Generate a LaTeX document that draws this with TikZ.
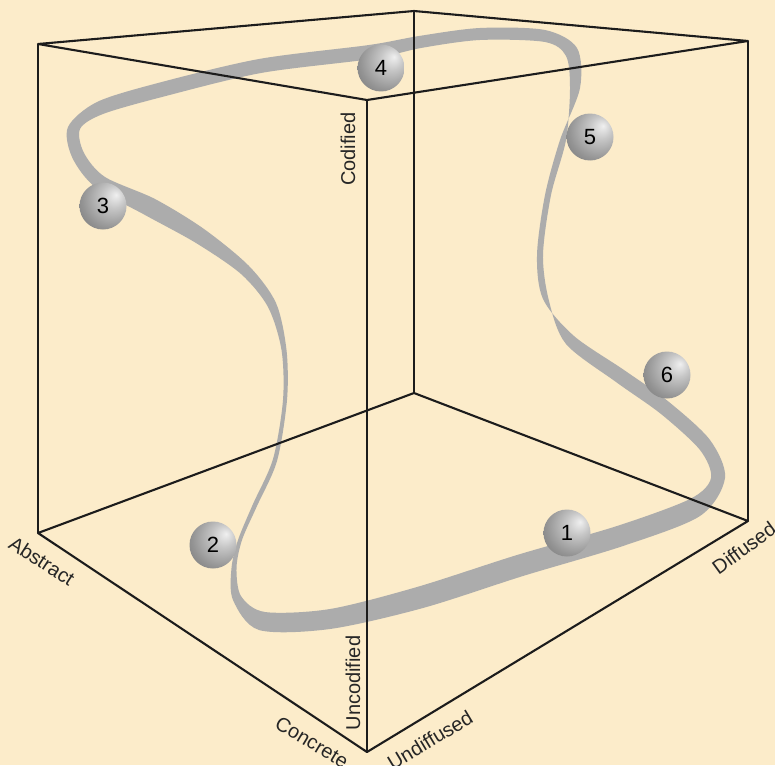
\documentclass[tikz,border=0pt]{standalone}
\usepackage{fontspec}
\setmainfont{Liberation Sans}
\definecolor{parch}{RGB}{252,236,202}
\definecolor{ink}{RGB}{28,28,28}
\definecolor{band}{RGB}{172,172,172}
\pgfdeclareradialshading{sphere}{\pgfqpoint{14bp}{12bp}}{color(0bp)=(black!6); color(12bp)=(black!22); color(30bp)=(black!42); color(48bp)=(black!58); color(70bp)=(black!64)}
\tikzset{
  edge/.style={draw=ink,line width=2.1pt,line join=round},
  ribbon/.style={fill=band,even odd rule},
  ball/.style={circle,minimum size=47pt,inner sep=0pt,shading=sphere,font=\fontsize{22}{24}\selectfont},
  axlabel/.style={font=\fontsize{20}{22}\selectfont,text=black!85,inner sep=1pt},
}
\begin{document}
\begin{tikzpicture}[x=1pt,y=-1pt]
  \fill[parch] (0,0) rectangle (775,765);
  \useasboundingbox (0,0) rectangle (775,765);
  % corners of the cube
  \coordinate (ab) at (38,533);  \coordinate (at) at (38,44);
  \coordinate (cb) at (367,752); \coordinate (ct) at (367,100);
  \coordinate (db) at (748,521); \coordinate (dt) at (748,41);
  \coordinate (bb) at (414,393); \coordinate (bt) at (414,11);
  % the ribbon
  \path[ribbon]
    plot[smooth cycle] coordinates {(231.5,568) (233,600) (259,630) (330,629) (423,608) (523,576) (623,546) (700,516) (725,478) (710,440) (669,402) (624,370) (574,336) (543,299) (537,255) (545,195) (560,140) (580,88) (577,48) (545,30) (480,28) (419,36) (369,45) (259,59) (158,83) (97,102) (68,127) (72,157) (95,187) (145,215) (196,243) (241,274) (268,307) (281.5,350) (283,400) (273,459) (253,504) (238,540)}
    plot[smooth cycle] coordinates {(236.5,568) (241,596) (265,612) (330,609) (417,587) (517,555) (617,526) (690,499) (711,478) (700,450) (661,414) (616,382) (566,344) (549,301) (543,255) (551,195) (566,140) (570,88) (566,56) (545,42) (480,40) (421,48) (371,59) (261,73) (162,97) (103,114) (80,129) (84,153) (105,177) (155,199) (204,229) (249,266) (276,303) (286.5,350) (287,400) (277,461) (257,506) (242,540)};
  \draw[edge] (at) -- (bt) -- (dt) -- (ct) -- cycle;
  \draw[edge] (ab) -- (cb) -- (db) -- (bb) -- cycle;
  \draw[edge] (at) -- (ab);
  \draw[edge] (ct) -- (cb);
  \draw[edge] (dt) -- (db);
  \draw[edge] (bt) -- (bb);
  \node[ball] (b1) at (567,533) {1};
  \node[ball] (b2) at (213,545) {2};
  \node[ball] (b3) at (103,206) {3};
  \node[ball] (b4) at (381,68) {4};
  \node[ball] (b5) at (590,137) {5};
  \node[ball] (b6) at (667,375) {6};
  \node[axlabel,rotate=-33] (labs) at (42,561) {Abstract};
  \node[axlabel,rotate=-31] (lconc) at (312,742) {Concrete};
  \node[axlabel,rotate=90] (luncod) at (353,683) {Uncodified};
  \node[axlabel,rotate=90] (lcod) at (348,149) {Codified};
  \node[axlabel,rotate=31] (lundiff) at (430,740) {Undiffused};
  \node[axlabel,rotate=36] (ldiff) at (744,548) {Diffused};
\end{tikzpicture}
\end{document}
